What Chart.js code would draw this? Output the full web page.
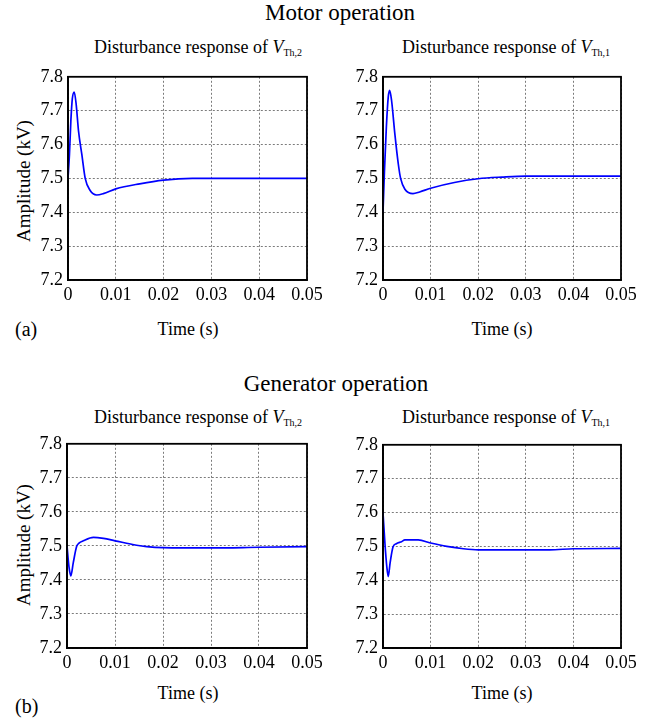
<!DOCTYPE html>
<html>
<head>
<meta charset="utf-8">
<script src="https://cdn.jsdelivr.net/npm/chart.js@4.4.1/dist/chart.umd.min.js"></script>
<style>
    html, body { margin: 0; padding: 0; background: #fff; }
    #page { position: relative; width: 659px; height: 722px; overflow: hidden;
            font-family: 'Liberation Serif', 'Times New Roman', serif; color: #000; }
    .box { position: absolute; }
    .txt { position: absolute; white-space: nowrap; line-height: 18px; font-size: 18px; }
    .main { font-size: 23px; line-height: 23px; transform: translateX(-50%); }
    .sub { transform: translateX(-50%); }
    .sub sub { font-size: 10px; line-height: 0; vertical-align: -3px; }
    .ylab { transform: translate(-50%, -50%) rotate(-90deg); font-size: 19px; }
    .xlab { transform: translate(-50%, -50%); }
    .tag { font-size: 20px; line-height: 20px; transform: translateY(-50%); }
</style>
</head>
<body>
<div id="page">
    <div class="txt main" style="left:340px; top:1px;">Motor operation</div>
    <div class="txt main" style="left:336px; top:372px;">Generator operation</div>

    <div class="txt sub" style="left:198px; top:38px;">Disturbance response of <i>V</i><sub>Th,2</sub></div>
    <div class="txt sub" style="left:506px; top:38px;">Disturbance response of <i>V</i><sub>Th,1</sub></div>
    <div class="txt sub" style="left:198px; top:408px;">Disturbance response of <i>V</i><sub>Th,2</sub></div>
    <div class="txt sub" style="left:506px; top:408px;">Disturbance response of <i>V</i><sub>Th,1</sub></div>

    <div class="txt ylab" style="left:24px; top:181px;">Amplitude (kV)</div>
    <div class="txt ylab" style="left:24px; top:545px;">Amplitude (kV)</div>

    <div class="txt xlab" style="left:188px; top:329px;">Time (s)</div>
    <div class="txt xlab" style="left:502px; top:329px;">Time (s)</div>
    <div class="txt xlab" style="left:188px; top:693px;">Time (s)</div>
    <div class="txt xlab" style="left:502px; top:693px;">Time (s)</div>

    <div class="txt tag" style="left:15px; top:329px;">(a)</div>
    <div class="txt tag" style="left:15px; top:706px;">(b)</div>

    <div class="box" id="boxMotor2"><canvas id="chartMotor2"></canvas></div>
    <div class="box" id="boxMotor1"><canvas id="chartMotor1"></canvas></div>
    <div class="box" id="boxGen2"><canvas id="chartGen2"></canvas></div>
    <div class="box" id="boxGen1"><canvas id="chartGen1"></canvas></div>
</div>

<script>
// 축 눈금
const timeTicks = [0, 0.01, 0.02, 0.03, 0.04, 0.05];
const ampTicks = [7.2, 7.3, 7.4, 7.5, 7.6, 7.7, 7.8];

// Motor operation, V_Th,2
const motorVth2Time = [0, 0.0003, 0.0006, 0.0009, 0.0013, 0.0017, 0.0022, 0.0029, 0.0036, 0.0046, 0.006, 0.0074, 0.01, 0.015, 0.02, 0.026, 0.035, 0.05];
const motorVth2Amp  = [7.5, 7.57, 7.67, 7.735, 7.755, 7.72, 7.64, 7.57, 7.5, 7.465, 7.451, 7.455, 7.469, 7.484, 7.495, 7.5, 7.5, 7.5];

// Motor operation, V_Th,1
const motorVth1Time = [0, 0.0003, 0.0007, 0.0011, 0.0014, 0.0018, 0.0025, 0.0032, 0.0037, 0.0046, 0.0063, 0.0077, 0.01, 0.015, 0.02, 0.025, 0.03, 0.05];
const motorVth1Amp  = [7.4, 7.52, 7.65, 7.74, 7.76, 7.73, 7.63, 7.544, 7.5, 7.468, 7.455, 7.46, 7.471, 7.488, 7.499, 7.504, 7.507, 7.507];

// Generator operation, V_Th,2
const genVth2Time = [0, 0.0004, 0.0008, 0.0013, 0.002, 0.0025, 0.0034, 0.0055, 0.0076, 0.01, 0.0145, 0.0166, 0.02, 0.03, 0.04, 0.05];
const genVth2Amp  = [7.5, 7.44, 7.412, 7.45, 7.498, 7.508, 7.515, 7.525, 7.522, 7.515, 7.502, 7.498, 7.495, 7.494, 7.496, 7.498];

// Generator operation, V_Th,1
const genVth1Time = [0, 0.0004, 0.0008, 0.0011, 0.0015, 0.0021, 0.0028, 0.0039, 0.0046, 0.0074, 0.01, 0.0134, 0.0169, 0.02, 0.035, 0.04, 0.05];
const genVth1Amp  = [7.6, 7.51, 7.44, 7.411, 7.452, 7.498, 7.508, 7.514, 7.519, 7.519, 7.51, 7.5, 7.493, 7.49, 7.49, 7.493, 7.494];

Chart.defaults.font.family = "'Liberation Serif', 'Times New Roman', serif";
Chart.defaults.font.size = 18;
Chart.defaults.color = '#000';

const Y_AXIS_W = 60;   // 왼쪽 눈금 영역
const X_AXIS_H = 30;   // 아래 눈금 영역
const PAD_TOP = 10;
const PAD_RIGHT = 24;

// 축 박스 테두리 (MATLAB 스타일)
const framePlugin = {
    id: 'frame',
    afterDraw(chart) {
        const a = chart.chartArea;
        const ctx = chart.ctx;
        ctx.save();
        ctx.strokeStyle = '#000';
        ctx.lineWidth = 1.8;
        ctx.setLineDash([]);
        ctx.strokeRect(a.left, a.top, a.right - a.left, a.bottom - a.top);
        ctx.restore();
    }
};

function makePanel(boxId, canvasId, plot, times, amps) {
    const box = document.getElementById(boxId);
    const w = Y_AXIS_W + plot.w + PAD_RIGHT;
    const h = PAD_TOP + plot.h + X_AXIS_H;
    box.style.left = (plot.x - Y_AXIS_W) + 'px';
    box.style.top = (plot.y - PAD_TOP) + 'px';
    box.style.width = w + 'px';
    box.style.height = h + 'px';

    const canvas = document.getElementById(canvasId);
    canvas.width = w;
    canvas.height = h;

    const points = times.map((t, i) => ({ x: t, y: amps[i] }));

    return new Chart(canvas.getContext('2d'), {
        type: 'line',
        data: {
            datasets: [{
                data: points,
                borderColor: '#0000ff',
                borderWidth: 1.7,
                pointRadius: 0,
                fill: false,
                cubicInterpolationMode: 'monotone'
            }]
        },
        options: {
            responsive: false,
            animation: false,
            layout: { padding: { left: 0, top: PAD_TOP, right: PAD_RIGHT, bottom: 0 } },
            plugins: { legend: { display: false }, tooltip: { enabled: false } },
            scales: {
                x: {
                    type: 'linear',
                    min: 0,
                    max: 0.05,
                    afterBuildTicks: s => { s.ticks = timeTicks.map(v => ({ value: v })); },
                    afterFit: s => { s.height = X_AXIS_H; },
                    ticks: {
                        padding: 4,
                        maxRotation: 0,
                        autoSkip: false,
                        callback: v => v === 0 ? '0' : v.toFixed(2)
                    },
                    grid: { color: '#444', lineWidth: 0.7, drawTicks: false },
                    border: { color: '#000', width: 1.8, dash: [2, 2] }
                },
                y: {
                    min: 7.2,
                    max: 7.8,
                    afterBuildTicks: s => { s.ticks = ampTicks.map(v => ({ value: v })); },
                    afterFit: s => { s.width = Y_AXIS_W; },
                    ticks: {
                        padding: 5,
                        autoSkip: false,
                        callback: v => v.toFixed(1)
                    },
                    grid: { color: '#444', lineWidth: 0.7, drawTicks: false },
                    border: { color: '#000', width: 1.8, dash: [2, 2] }
                }
            }
        },
        plugins: [framePlugin]
    });
}

makePanel('boxMotor2', 'chartMotor2', { x: 68, y: 71, w: 239, h: 209 }, motorVth2Time, motorVth2Amp);
makePanel('boxMotor1', 'chartMotor1', { x: 383, y: 71, w: 238, h: 209 }, motorVth1Time, motorVth1Amp);
makePanel('boxGen2', 'chartGen2', { x: 67, y: 438, w: 240, h: 210 }, genVth2Time, genVth2Amp);
makePanel('boxGen1', 'chartGen1', { x: 383, y: 439, w: 238, h: 209 }, genVth1Time, genVth1Amp);
</script>
</body>
</html>
